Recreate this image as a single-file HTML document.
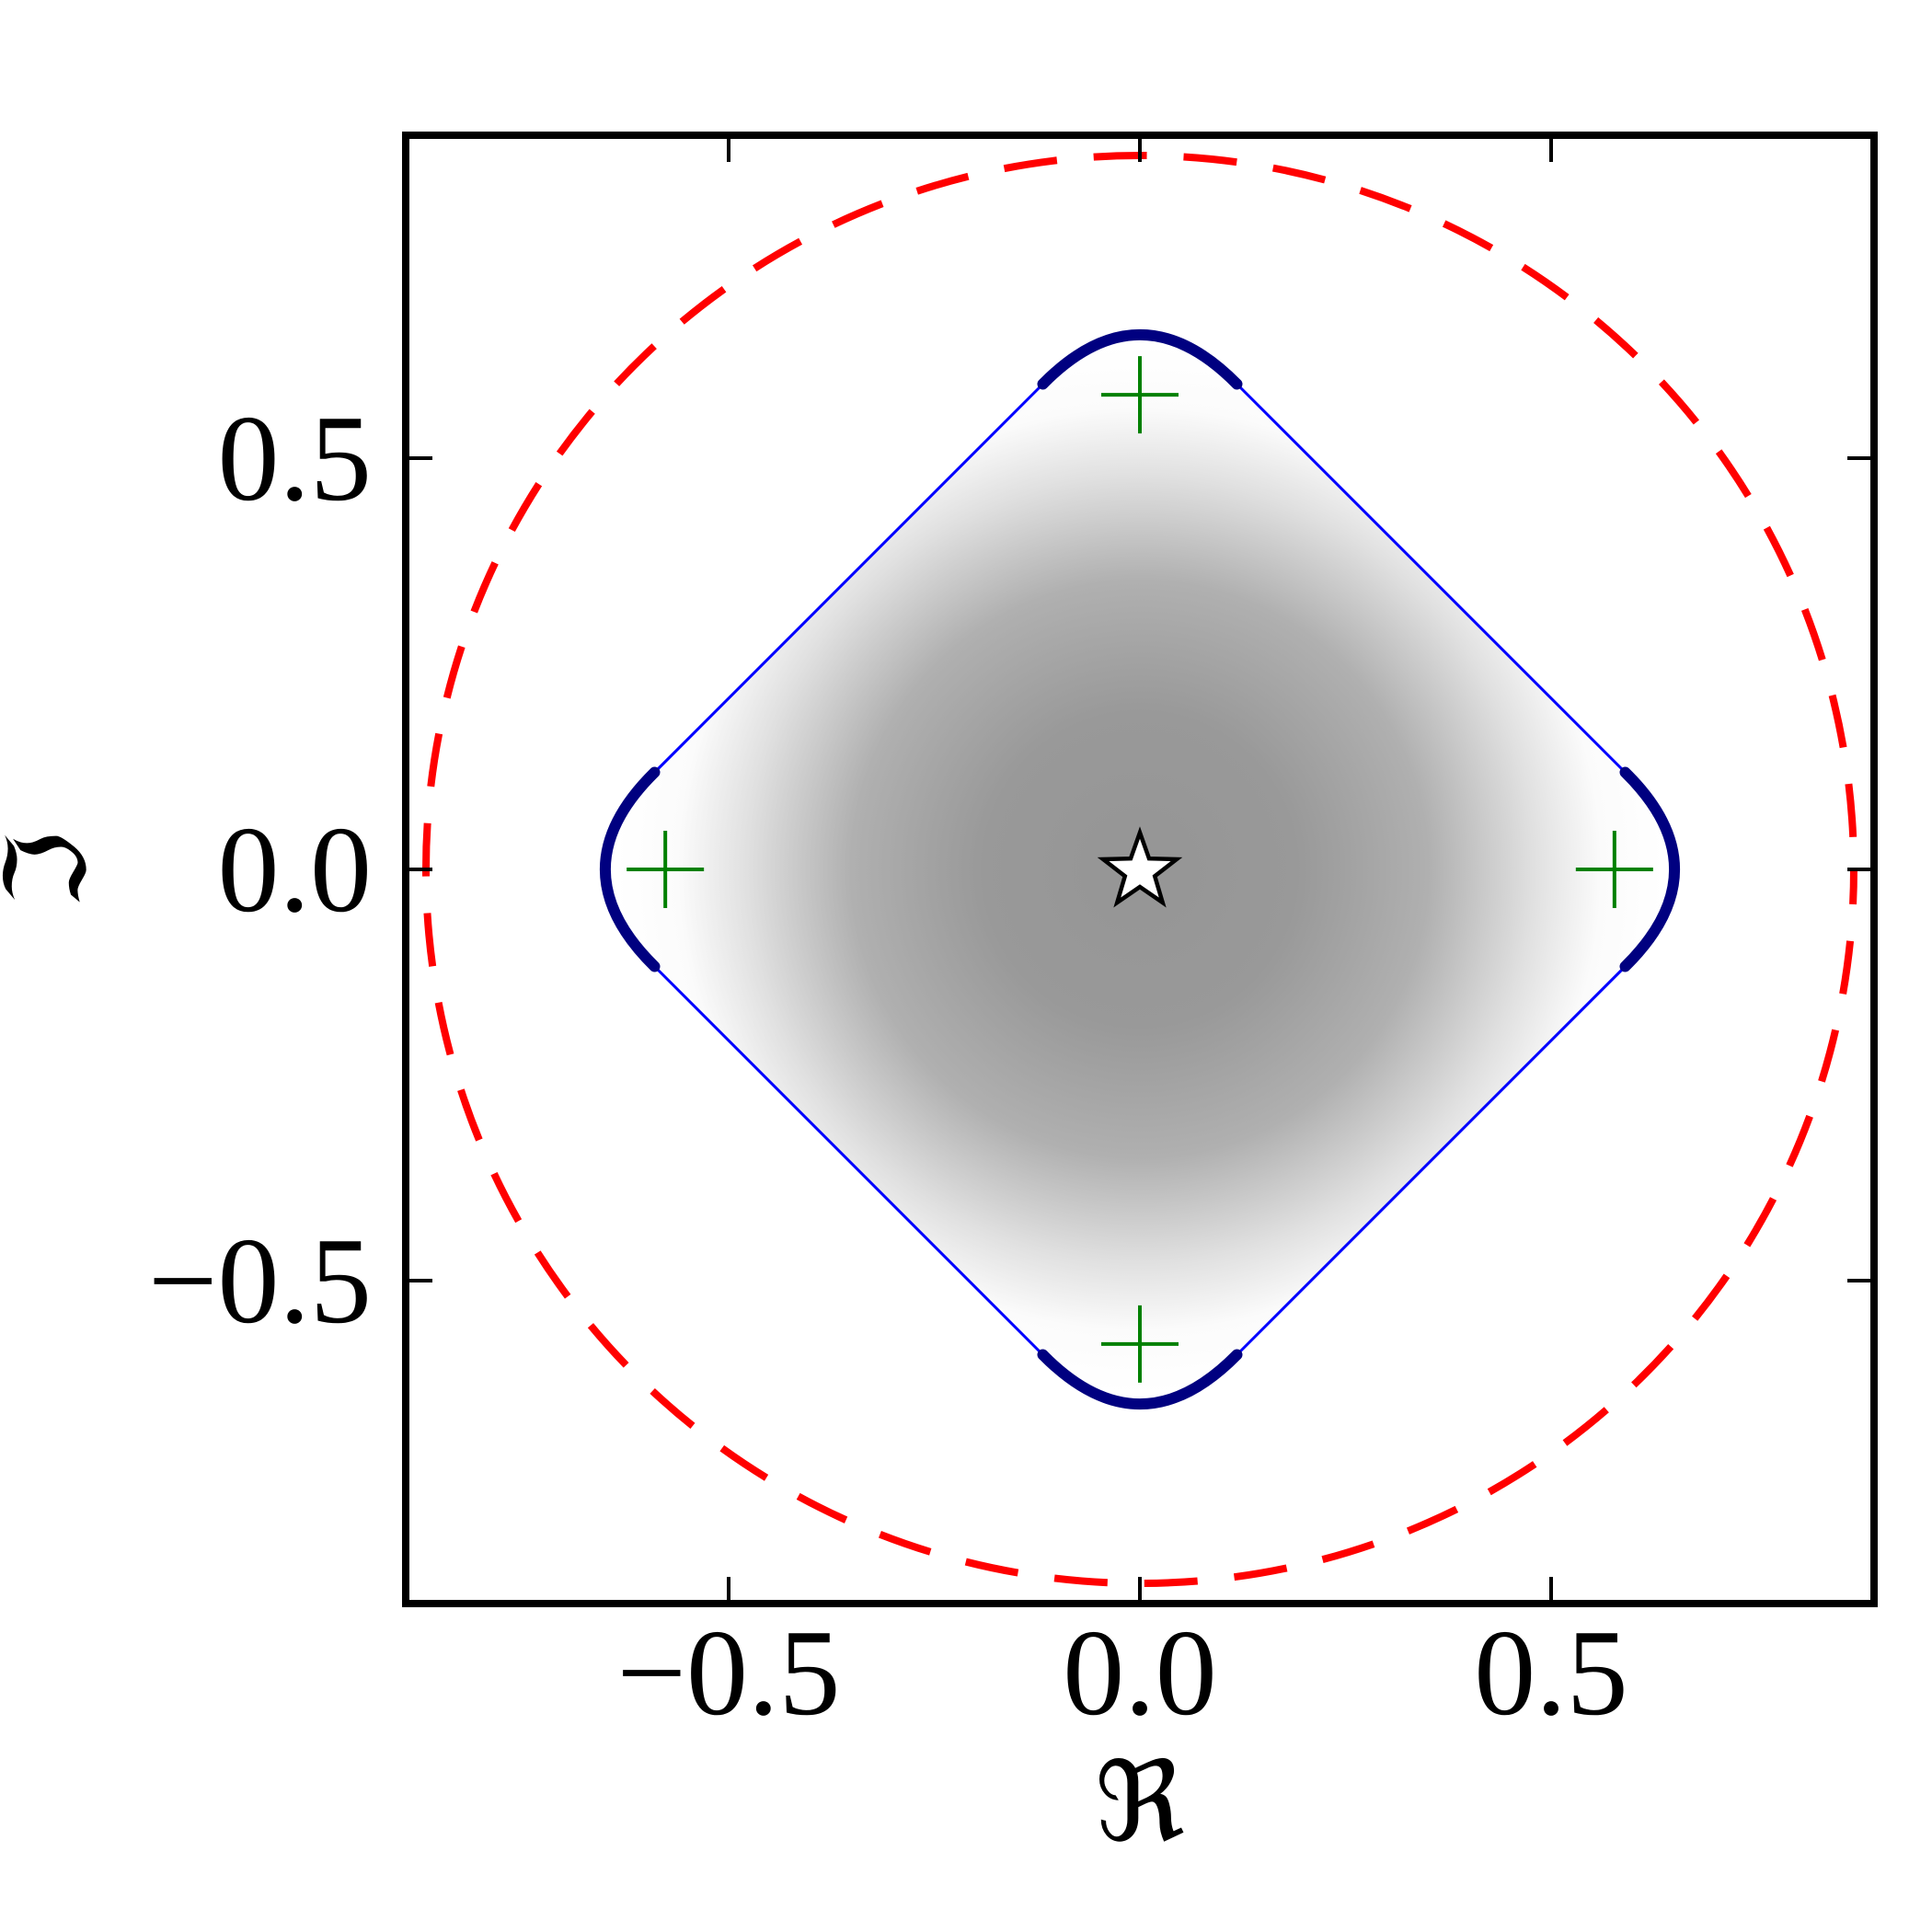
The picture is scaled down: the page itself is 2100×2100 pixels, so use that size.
<!DOCTYPE html>
<html><head><meta charset="utf-8"><style>
html,body{margin:0;padding:0;background:#fff;}
svg{display:block;}
text{font-family:"Liberation Serif","DejaVu Serif",serif;}
</style></head><body>
<svg id="chart" width="2100" height="2100" viewBox="0 0 2100 2100" xmlns="http://www.w3.org/2000/svg">
<defs>
<radialGradient id="shade" cx="1239" cy="945" r="570" gradientUnits="userSpaceOnUse">
<stop offset="0" stop-color="#959595"/>
<stop offset="0.3" stop-color="#999999"/>
<stop offset="0.55" stop-color="#b0b0b0"/>
<stop offset="0.75" stop-color="#e0e0e0"/>
<stop offset="0.88" stop-color="#fbfbfb"/>
<stop offset="1" stop-color="#ffffff"/>
</radialGradient>
</defs>
<g id="plot"></g>
</svg>
<script>
const xTicks = [-0.5, 0, 0.5];
const yTicks = [-0.5, 0, 0.5];
const tickLabels = ["\u22120.5", "0.0", "0.5"];
const circleRadius = [0.868];
const arcEnd = [0.118, 0.590];
const arcPeak = [0.650];
const plusX = [0, 0, -0.577, 0.577];
const plusY = [0.577, -0.577, 0, 0];
const starX = [0];
const starY = [0];

const L = 441, R = 2037, T = 147, B = 1743;
const cx = (L + R) / 2, cy = (T + B) / 2, unit = 894;
const sx = v => cx + v * unit;
const sy = v => cy - v * unit;
const NS = "http://www.w3.org/2000/svg";
const g = document.getElementById('plot');
function mk(tag, attrs, parent) {
  const e = document.createElementNS(NS, tag);
  for (const k in attrs) e.setAttribute(k, attrs[k]);
  (parent || g).appendChild(e);
  return e;
}

const a = arcEnd[0], b = arcEnd[1], p = arcPeak[0];
const c = 2 * p - b;
function P(x, y) { return sx(x).toFixed(1) + ',' + sy(y).toFixed(1); }
const d = 'M' + P(-a, b) + ' Q' + P(0, c) + ' ' + P(a, b) +
  ' L' + P(b, a) + ' Q' + P(c, 0) + ' ' + P(b, -a) +
  ' L' + P(a, -b) + ' Q' + P(0, -c) + ' ' + P(-a, -b) +
  ' L' + P(-b, -a) + ' Q' + P(-c, 0) + ' ' + P(-b, a) + ' Z';
const fill = mk('path', { d: d, fill: 'url(#shade)', stroke: '#0000ff', 'stroke-width': 3 });



const arcs = [
  [[-a, b], [0, c], [a, b]],
  [[b, a], [c, 0], [b, -a]],
  [[a, -b], [0, -c], [-a, -b]],
  [[-b, -a], [-c, 0], [-b, a]]
];
arcs.forEach((q, i) => {
  const e = mk('path', { d: 'M' + P(q[0][0], q[0][1]) + ' Q' + P(q[1][0], q[1][1]) + ' ' + P(q[2][0], q[2][1]),
    fill: 'none', stroke: '#000080', 'stroke-width': 12, 'stroke-linecap': 'round' });
  
  
});

const circ = mk('circle', { cx: sx(0), cy: sy(0), r: circleRadius[0] * unit, fill: 'none',
  stroke: '#ff0000', 'stroke-width': 8, 'stroke-dasharray': '58 40', 'stroke-dashoffset': 20 });



plusX.forEach((x, i) => {
  const X = sx(x), Y = sy(plusY[i]);
  const e = mk('path', { d: `M${X - 42},${Y}H${X + 42}M${X},${Y - 42}V${Y + 42}`, stroke: '#008000', 'stroke-width': 4, fill: 'none' });
  
  
});

starX.forEach((x, i) => {
  const X = sx(x), Y = sy(starY[i]) + 2;
  let s = '';
  for (let k = 0; k < 10; k++) {
    const r = k % 2 ? 17 : 42;
    const ang = -Math.PI / 2 + k * Math.PI / 5;
    s += (k ? 'L' : 'M') + (X + r * Math.cos(ang)).toFixed(1) + ',' + (Y + r * Math.sin(ang)).toFixed(1);
  }
  const e = mk('path', { d: s + 'Z', fill: '#ffffff', stroke: '#000', 'stroke-width': 4.5, 'stroke-linejoin': 'miter' });
  
  
});

const fr = mk('rect', { x: L, y: T, width: R - L, height: B - T, fill: 'none', stroke: '#000', 'stroke-width': 8 });



xTicks.forEach((v, i) => {
  const X = sx(v);
  const t = mk('path', { d: `M${X},${B}V${B - 29}M${X},${T}V${T + 29}`, stroke: '#000', 'stroke-width': 4 });
  
  
  const lbl = mk('text', { x: X, y: 1863, 'text-anchor': 'middle', 'font-size': 134 });
  lbl.textContent = tickLabels[i];
  
  
});
yTicks.forEach((v, i) => {
  const Y = sy(v);
  const t = mk('path', { d: `M${L},${Y}H${L + 29}M${R},${Y}H${R - 29}`, stroke: '#000', 'stroke-width': 4 });
  
  
  const lbl = mk('text', { x: 404, y: Y + 45, 'text-anchor': 'end', 'font-size': 134 });
  lbl.textContent = tickLabels[i];
  
  
});

const xl = mk('text', { x: 1239, y: 2000, 'text-anchor': 'middle', 'font-size': 120 });
xl.textContent = '\u211C';


const yl = mk('text', { x: 0, y: 0, 'text-anchor': 'middle', 'font-size': 120, transform: 'translate(92,945) rotate(-90)' });
yl.textContent = '\u2111';


</script>
</body></html>
